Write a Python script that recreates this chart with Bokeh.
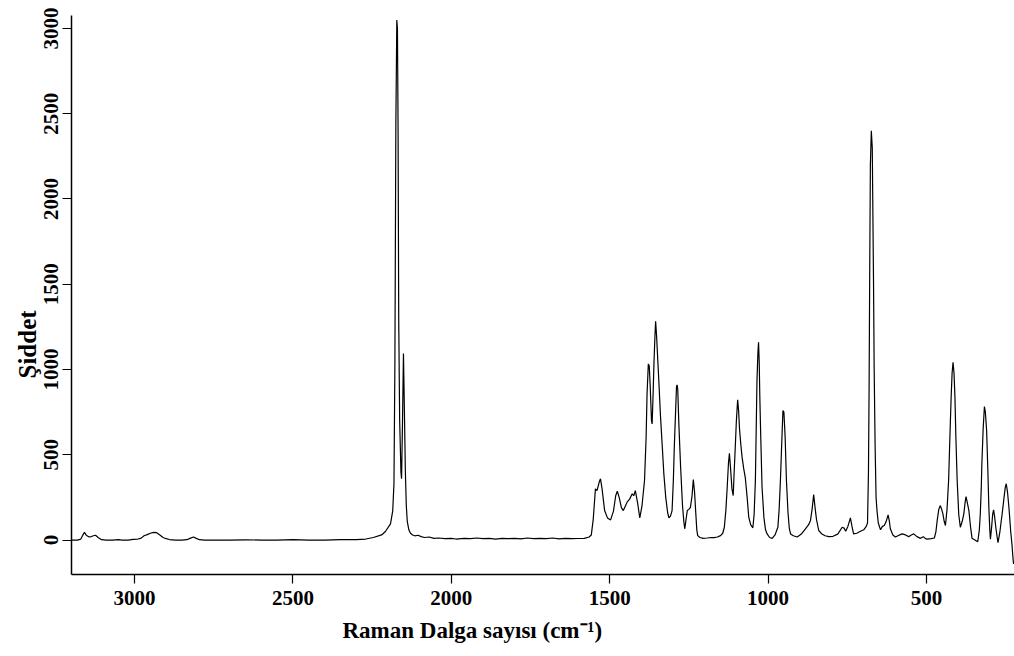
from bokeh.plotting import figure
from bokeh.models import Range1d, FixedTicker, Title
from bokeh.embed import file_html
from bokeh.resources import INLINE

# Raman spectrum (wavenumber cm-1, intensity)
wavenumber = [
    3199, 3180, 3170, 3163, 3158, 3153, 3146, 3140, 3130, 3123, 3115, 3104, 3090, 3070, 3050, 3040,
    3020, 3005, 2990, 2980, 2970, 2960, 2950, 2940, 2930, 2920, 2910, 2900, 2890, 2870, 2850, 2835,
    2825, 2814, 2805, 2795, 2780, 2700, 2650, 2600, 2550, 2500, 2450, 2400, 2350, 2300, 2270, 2246,
    2220, 2208, 2192, 2185, 2181, 2178, 2175, 2172, 2170, 2168, 2166, 2163, 2159, 2157, 2154, 2151,
    2148, 2145, 2142, 2139, 2134, 2129, 2122, 2115, 2105, 2095, 2085, 2070, 2055, 2040, 2020, 2000,
    1985, 1960, 1940, 1920, 1900, 1880, 1860, 1840, 1820, 1800, 1780, 1760, 1740, 1720, 1700, 1680,
    1660, 1640, 1620, 1600, 1580, 1565, 1558, 1552, 1545, 1540, 1533, 1529, 1524, 1516, 1507, 1497,
    1488, 1481, 1476, 1470, 1463, 1457, 1445, 1437, 1429, 1424, 1419, 1412, 1405, 1398, 1390, 1385,
    1382, 1378, 1375, 1372, 1368, 1366, 1363, 1360, 1357, 1355, 1352, 1348, 1344, 1340, 1334, 1329,
    1323, 1317, 1313, 1308, 1303, 1299, 1296, 1292, 1289, 1287, 1285, 1282, 1279, 1276, 1270, 1266,
    1263, 1259, 1255, 1250, 1245, 1240, 1236, 1232, 1228, 1225, 1222, 1215, 1205, 1192, 1180, 1170,
    1160, 1150, 1143, 1138, 1133, 1129, 1125, 1122, 1118, 1114, 1110, 1107, 1104, 1100, 1096, 1093,
    1090, 1086, 1082, 1077, 1072, 1066, 1061, 1055, 1048, 1044, 1040, 1037, 1035, 1032, 1030, 1028,
    1026, 1023, 1019, 1013, 1008, 1003, 995, 987, 978, 972, 969, 965, 961, 957, 953, 950,
    946, 942, 937, 933, 929, 920, 908, 895, 882, 872, 866, 861, 856, 851, 847, 840,
    830, 820, 808, 795, 780, 766, 760, 755, 748, 740, 735, 730, 720, 710, 698, 690,
    686, 683, 681, 679, 677, 674, 671, 669, 667, 665, 662, 659, 656, 652, 645, 639,
    633, 627, 621, 617, 614, 606, 598, 590, 577, 566, 556, 548, 540, 530, 519, 510,
    504, 498, 485, 475, 470, 466, 461, 456, 452, 448, 444, 440, 435, 430, 426, 422,
    419, 416, 413, 410, 407, 403, 398, 393, 387, 382, 378, 375, 371, 366, 361, 356,
    347, 338, 333, 330, 327, 325, 321, 317, 314, 310, 306, 303, 300, 298, 294, 291,
    288, 285, 281, 277, 274, 268, 264, 261, 255, 251, 248, 244, 240, 238, 234, 230,
    227, 225,
]
intensity = [
    0, 0, 5, 30, 45, 30, 20, 18, 25, 28, 15, 2, 0, 0, 2, 0,
    0, 4, 6, 10, 25, 32, 40, 45, 43, 30, 15, 8, 3, 0, 0, 2,
    10, 18, 10, 2, 0, 0, 1, 0, 0, 2, 0, 0, 3, 2, 6, 15,
    30, 50, 95, 170, 330, 1050, 2450, 3050, 3000, 2400, 1300, 700, 400, 360, 700, 1094,
    750, 400, 200, 110, 60, 40, 30, 25, 28, 20, 15, 18, 10, 12, 8, 10,
    6, 10, 8, 12, 8, 10, 6, 10, 8, 10, 7, 12, 8, 10, 8, 12,
    7, 10, 8, 9, 10, 18, 30, 120, 300, 290, 340, 359, 300, 173, 130, 118,
    170, 260, 286, 250, 190, 173, 222, 240, 271, 260, 290, 220, 130, 200, 349, 600,
    857, 1033, 1020, 900, 700, 681, 850, 1050, 1200, 1283, 1200, 1050, 900, 740, 550, 388,
    250, 160, 130, 140, 173, 350, 544, 750, 900, 910, 880, 700, 560, 427, 200, 110,
    66, 120, 173, 180, 192, 260, 355, 280, 153, 60, 26, 15, 10, 12, 15, 14,
    18, 26, 40, 75, 180, 310, 450, 509, 410, 300, 261, 400, 525, 700, 822, 760,
    650, 560, 486, 420, 368, 250, 134, 90, 72, 150, 349, 700, 935, 1100, 1160, 1050,
    840, 600, 310, 130, 60, 36, 15, 10, 30, 60, 75, 180, 349, 560, 760, 750,
    600, 349, 160, 70, 36, 25, 18, 35, 66, 90, 115, 180, 267, 180, 120, 56,
    35, 25, 20, 22, 35, 75, 70, 52, 80, 130, 80, 36, 40, 50, 60, 80,
    100, 400, 900, 1600, 2200, 2400, 2300, 1900, 1500, 1000, 550, 250, 170, 100, 60, 80,
    85, 110, 148, 110, 66, 30, 18, 25, 36, 30, 20, 30, 36, 20, 10, 20,
    10, 5, 8, 12, 50, 115, 180, 202, 180, 153, 110, 85, 180, 349, 600, 838,
    980, 1043, 980, 838, 600, 349, 150, 75, 110, 153, 220, 255, 220, 173, 80, 10,
    0, -10, 60, 153, 300, 450, 650, 783, 750, 642, 400, 192, 60, 5, 80, 150,
    177, 140, 75, 20, -15, 50, 110, 153, 250, 310, 330, 280, 200, 153, 50, -25,
    -100, -140,
]

x_ticks = [500, 1000, 1500, 2000, 2500, 3000]
y_ticks = [0, 500, 1000, 1500, 2000, 2500, 3000]
x_title = "Raman Dalga sayısı (cm\u207b\u00b9)"
y_title = "Şiddet"

p = figure(width=1014, height=656, output_backend="svg", toolbar_location=None,
           x_range=Range1d(3199, 222), y_range=Range1d(-202, 3076),
           min_border_left=71, min_border_right=0, min_border_top=15, min_border_bottom=82)
p.outline_line_color = None
p.grid.visible = False
p.background_fill_color = "white"
p.border_fill_color = "white"

p.line(wavenumber, intensity, line_color="black", line_width=1.2)

FONT = "Liberation Serif"
for ax in (p.xaxis[0], p.yaxis[0]):
    ax.axis_line_color = "black"
    ax.axis_line_width = 1.5
    ax.major_tick_line_color = "black"
    ax.major_tick_line_width = 1.2
    ax.major_tick_out = 9
    ax.major_tick_in = 0
    ax.minor_tick_line_color = None
    ax.major_label_text_font = FONT
    ax.major_label_text_font_style = "bold"
    ax.major_label_text_font_size = "21px"
    ax.major_label_text_color = "black"

p.xaxis.ticker = FixedTicker(ticks=x_ticks)
p.yaxis.ticker = FixedTicker(ticks=y_ticks)
p.yaxis.major_label_orientation = "vertical"
p.xaxis.major_label_standoff = 7
p.yaxis.major_label_standoff = 4

# axis titles as side titles so they can be shifted like in the reference
p.add_layout(Title(text=x_title, align="left", offset=271, standoff=17,
                   text_font=FONT, text_font_style="bold", text_font_size="23px",
                   text_color="black"), "below")
p.add_layout(Title(text=y_title, align="left", offset=196, standoff=2,
                   text_font=FONT, text_font_style="bold", text_font_size="25px",
                   text_color="black"), "left")

open("out.html", "w").write(file_html(p, INLINE))
